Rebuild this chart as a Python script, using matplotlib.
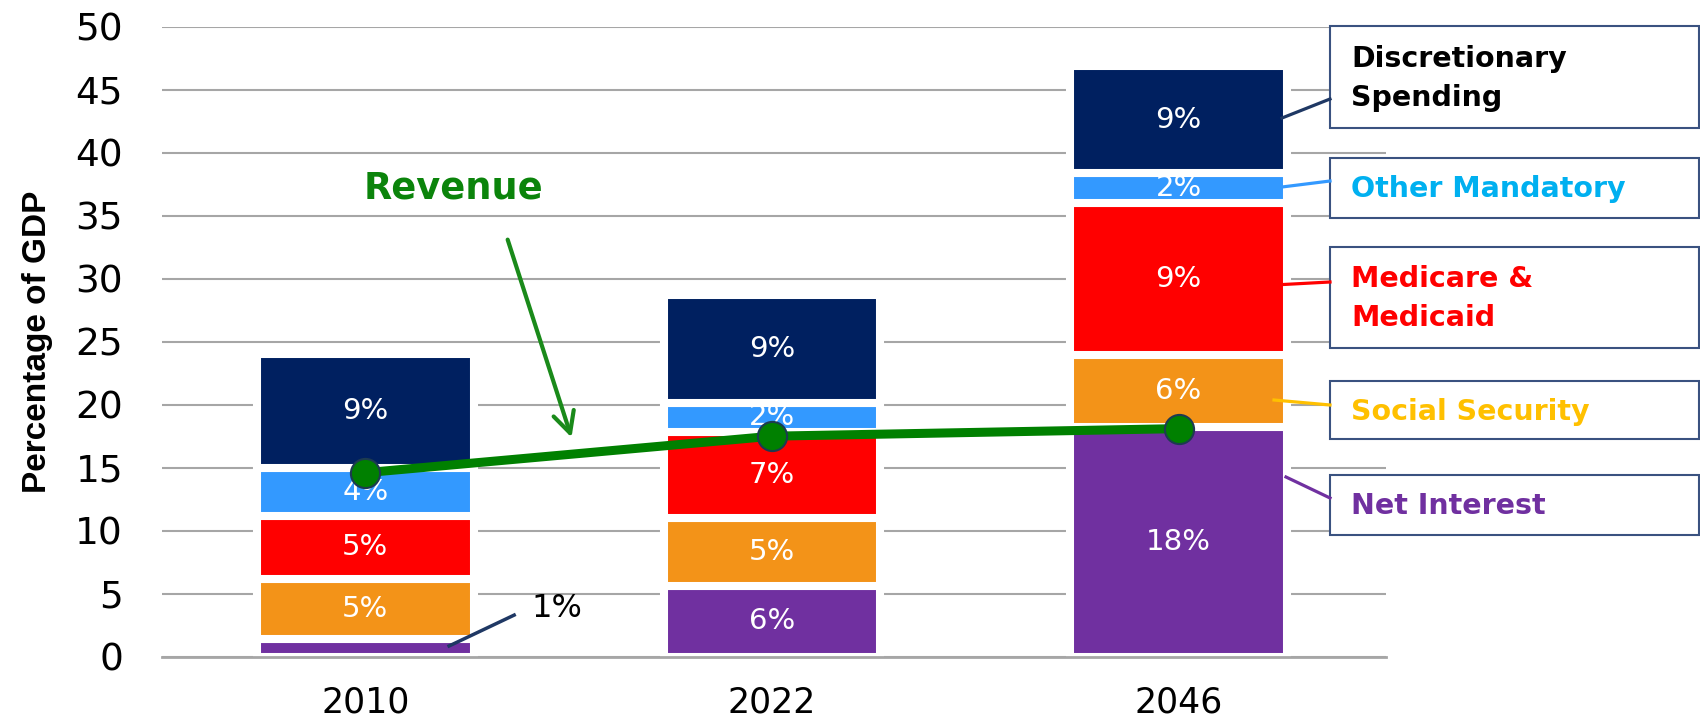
import numpy as np
import matplotlib.pyplot as plt
from matplotlib.patches import Rectangle
from matplotlib.lines import Line2D

# values (percent of GDP)
years = ['2010', '2022', '2046']
net_interest = [1.43, 5.6, 18.2]
social_security = [4.75, 5.4, 5.75]
medicare = [5.0, 6.85, 12.05]
other_mandatory = [3.76, 2.3, 2.35]
discretionary = [9.06, 8.55, 8.55]
revenue = [14.6, 17.5, 18.1]

ni_labels = ['', '6%', '18%']
ss_labels = ['5%', '5%', '6%']
mm_labels = ['5%', '7%', '9%']
om_labels = ['4%', '2%', '2%']
ds_labels = ['9%', '9%', '9%']

names = ['Net Interest', 'Social Security', 'Medicare &\nMedicaid',
         'Other Mandatory', 'Discretionary\nSpending']
bar_colors = ['#7030a0', '#f39318', '#ff0000', '#3399ff', '#002060']
text_colors = ['#7030a0', '#ffc000', '#ff0000', '#00b0f0', 'black']
line_colors = ['#7030a0', '#ffc000', '#ff0000', '#3399ff', '#1f3864']

series = [net_interest, social_security, medicare, other_mandatory, discretionary]
labels = [ni_labels, ss_labels, mm_labels, om_labels, ds_labels]

W, H = 1700, 726
fig = plt.figure(figsize=(W/100, H/100), dpi=100)
ax = fig.add_axes([0.0953, 0.0955, 0.72, 0.8677])

x = np.arange(len(years))
bottom = np.zeros(len(years))
for vals, labs, col in zip(series, labels, bar_colors):
    ax.bar(x, vals, 0.533, bottom=bottom, color=col, edgecolor='white', linewidth=5.8)
    for xi, b, v, l in zip(x, bottom, vals, labs):
        if l:
            ax.text(xi, b + v/2, l, ha='center', va='center', color='white', fontsize=21)
    bottom += np.array(vals)

ax.plot(x, revenue, color='#008000', lw=6.5, marker='o', ms=21,
        mfc='#008000', mec='#1d3b50', mew=1.5, zorder=4)

ax.set_ylim(0, 50)
ax.set_xlim(-0.5, 2.51)
ax.set_yticks(np.arange(0, 51, 5))
ax.set_xticks(x)
ax.set_xticklabels(years)
ax.set_axisbelow(True)
ax.yaxis.grid(True, color='#a6a6a6', lw=1.5)
for s in ['top', 'right', 'left']:
    ax.spines[s].set_visible(False)
ax.spines['bottom'].set_color('#a6a6a6')
ax.spines['bottom'].set_linewidth(2)
ax.tick_params(axis='y', length=0, labelsize=27, pad=28)
ax.tick_params(axis='x', length=0, labelsize=25, pad=21)

ax.set_ylabel('Percentage of GDP', fontsize=24, fontweight='bold', family='Liberation Sans')
ax.yaxis.set_label_coords(-0.089, 0.5)

# Revenue label and arrow
ax.text(0.216, 37.2, 'Revenue', color='#0b840b', fontsize=26.5, fontweight='bold',
        ha='center', va='center')
ax.annotate('', xy=(0.507, 17.4), xytext=(0.35, 33.1),
            arrowprops=dict(arrowstyle='->,head_length=0.75,head_width=0.38',
                            color='#1a8a1a', lw=3, shrinkA=0, shrinkB=0,
                            mutation_scale=20))

# 1% callout
ax.plot([0.206, 0.366], [0.85, 3.3], color='#1f3864', lw=2.5, zorder=4)
ax.text(0.472, 3.8, '1%', fontsize=23, ha='center', va='center', color='black')


def px(xp, yp):
    return xp / W, 1 - yp / H


# boxes on the right, from bottom segment to top
box_spans = [(474.5, 534.7), (381, 439), (246.8, 347.7), (158, 217.6), (25.5, 128)]
leaders = [((1286, 477), (1330, 498)), ((1274, 400), (1330, 405)),
           ((1274, 285), (1330, 282)), ((1282, 187), (1330, 181)),
           ((1282, 118), (1330, 99))]
for name, tc, lc, (y0, y1), (p0, p1) in zip(names, text_colors, line_colors, box_spans, leaders):
    bx, by = px(1330, y1)
    fig.patches.append(Rectangle((bx, by), (1699 - 1330) / W, (y1 - y0) / H,
                                 transform=fig.transFigure, facecolor='white',
                                 edgecolor='#3a5280', lw=1.5))
    tx, ty = px(1351, (y0 + y1) / 2 + 1.5)
    fig.text(tx, ty, name, color=tc, fontsize=20.5, fontweight='bold',
             ha='left', va='center', linespacing=1.5)
    a, b = px(*p0), px(*p1)
    fig.lines.append(Line2D([a[0], b[0]], [a[1], b[1]], transform=fig.transFigure,
                            color=lc, lw=2.3))

fig.savefig('out.png', dpi=100)
